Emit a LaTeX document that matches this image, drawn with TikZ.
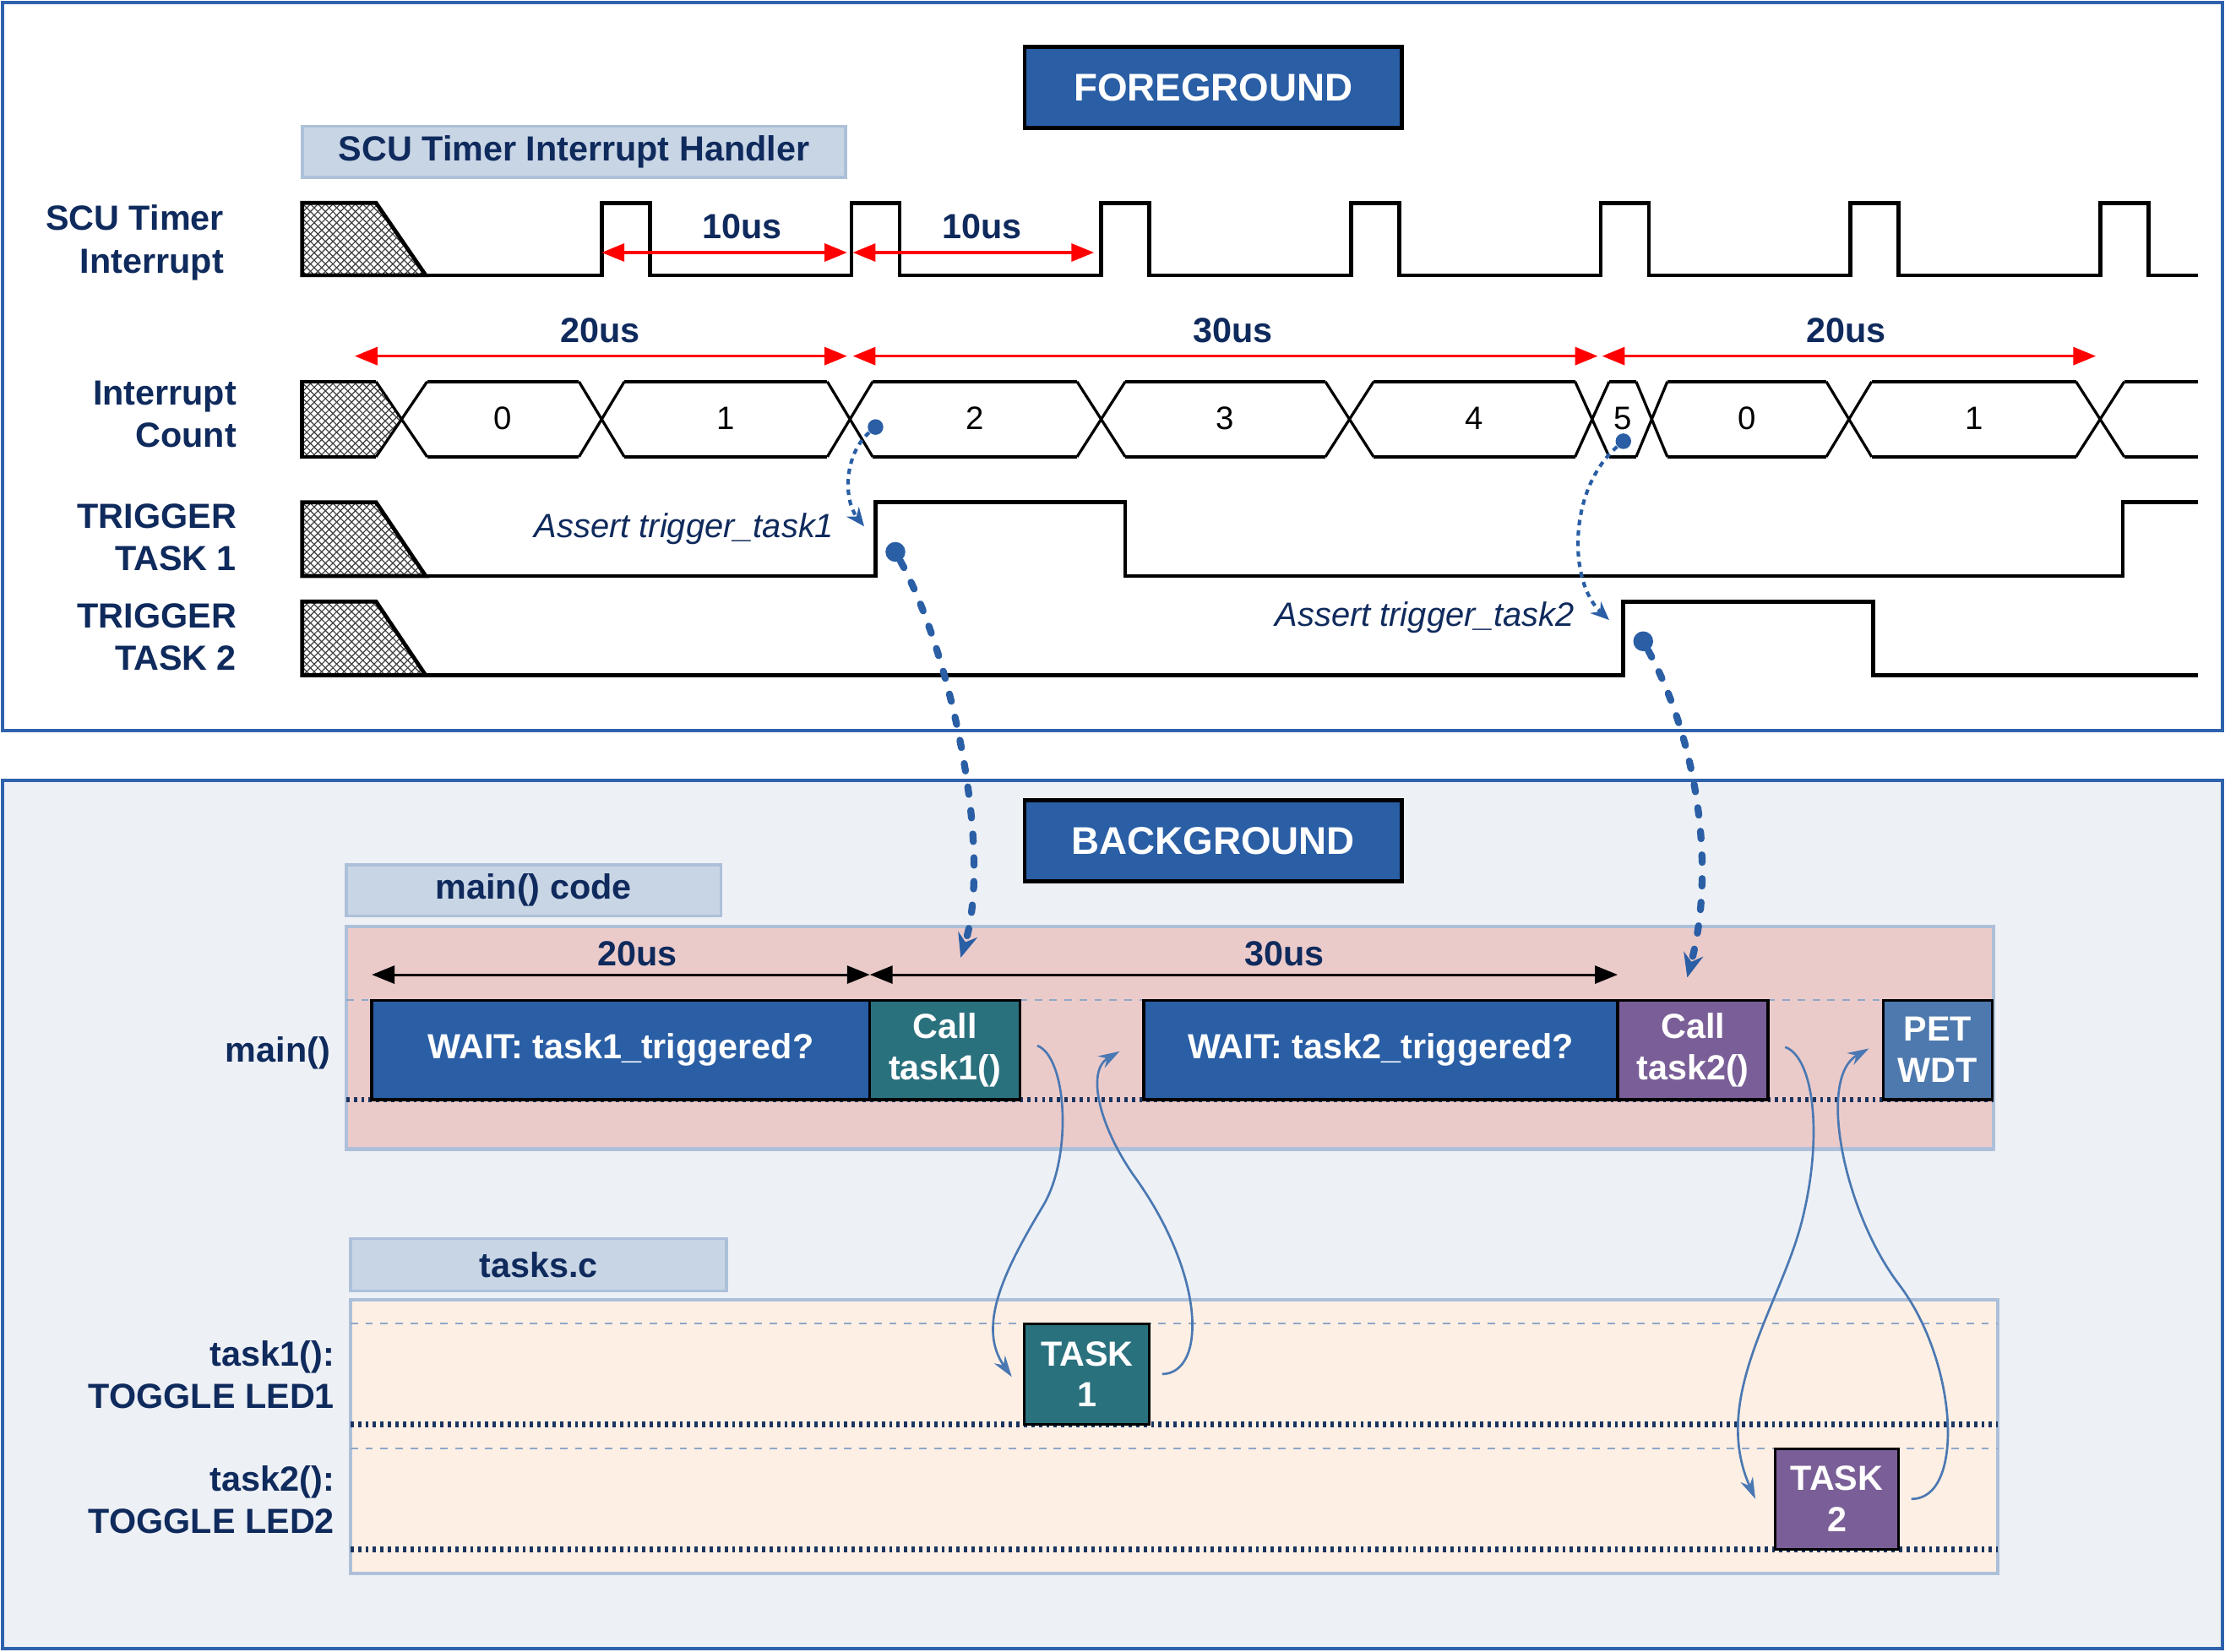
\documentclass[tikz,border=0pt]{standalone}
\usepackage{fontspec}
\setmainfont{Liberation Sans}
\usetikzlibrary{arrows.meta,patterns}

\definecolor{navytext}{HTML}{0F2A5C}
\definecolor{frameblue}{HTML}{2F62AC}
\definecolor{boxblue}{HTML}{2A5EA5}
\definecolor{tagfill}{HTML}{C8D5E5}
\definecolor{tagdraw}{HTML}{ADC0D9}
\definecolor{pinkfill}{HTML}{EBCBCA}
\definecolor{peachfill}{HTML}{FDEFE4}
\definecolor{bgfill}{HTML}{EDF0F5}
\definecolor{guidegray}{HTML}{8FA7C9}
\definecolor{tracknavy}{HTML}{1B3560}
\definecolor{tealbox}{HTML}{2A717E}
\definecolor{purplebox}{HTML}{7A5E97}
\definecolor{petbox}{HTML}{4E79AE}
\definecolor{curveblue}{HTML}{4A78B2}

\begin{document}
\begin{tikzpicture}[x=0.2mm, y=-0.2mm]

\tikzstyle{outerframe} = [draw=frameblue, line width=1.3pt]
\tikzstyle{headbox} = [draw=black, line width=1.6pt, fill=boxblue, text=white, font=\bfseries\fontsize{15.5}{18}\selectfont, minimum width=53.2mm, minimum height=11.4mm]
\tikzstyle{tagbox} = [draw=tagdraw, line width=1.2pt, fill=tagfill, text=navytext, font=\bfseries\fontsize{14}{17}\selectfont, minimum height=7.2mm]
\tikzstyle{lbl} = [text=navytext, font=\bfseries\fontsize{14}{17}\selectfont, align=right, anchor=east, inner sep=0pt]
\tikzstyle{dim} = [text=navytext, font=\bfseries\fontsize{14}{17}\selectfont]
\tikzstyle{cnt} = [font=\fontsize{13}{15}\selectfont]
\tikzstyle{assert} = [text=navytext, font=\itshape\fontsize{13.5}{16}\selectfont, anchor=east, inner sep=0pt]
\tikzstyle{wave} = [line width=1.6pt, line join=miter]
\tikzstyle{slope} = [line width=1.1pt]
\tikzstyle{redarr} = [red, line width=1.2pt, {Triangle[length=3.2mm,width=2.5mm]}-{Triangle[length=3.2mm,width=2.5mm]}]
\tikzstyle{blkarr} = [black, line width=1pt, {Triangle[length=3.2mm,width=2.5mm]}-{Triangle[length=3.2mm,width=2.5mm]}]
\tikzstyle{bluedot} = [circle, fill=boxblue, inner sep=0pt, minimum size=2.2mm]
\tikzstyle{bigdot} = [circle, fill=boxblue, inner sep=0pt, minimum size=2.8mm]
\tikzstyle{hint} = [boxblue, line width=1.4pt, dash pattern=on 2.2pt off 2pt, -{Stealth[length=2.6mm,width=2.2mm]}]
\tikzstyle{jump} = [boxblue, line width=2.8pt, line cap=round, dash pattern=on 3pt off 6.5pt, -{Stealth[length=3.4mm,width=2.8mm]}]
\tikzstyle{callarrow} = [curveblue, line width=0.9pt, -{Stealth[length=3mm,width=1.9mm]}]
\tikzstyle{taskbox} = [draw=black, line width=1.1pt, text=white, font=\bfseries\fontsize{14}{16.5}\selectfont, align=center, minimum height=14mm, inner sep=0pt]
\tikzstyle{guide} = [guidegray, line width=0.6pt, dashed]
\tikzstyle{track} = [tracknavy, line width=2.2pt, dash pattern=on 1.3pt off 1.7pt]

\useasboundingbox (0,0) rectangle (1568,1164);

%------------------------------------------------------------
% frames and titles
	\draw[outerframe, fill=white] (2,2) rectangle (1566,515);
	\draw[outerframe, fill=bgfill] (2,550) rectangle (1566,1162);

	\node[headbox] (fg) at (855,61.5) {FOREGROUND};
	\node[headbox] (bg) at (855,592.5) {BACKGROUND};

	\node[tagbox, minimum width=76.6mm] (isr) at (404.5,107) {SCU Timer Interrupt Handler};
	\node[tagbox, minimum width=52.8mm] (maincode) at (376,627.5) {main() code};
	\node[tagbox, minimum width=53mm, minimum height=7.4mm] (tasksc) at (379.5,891.5) {tasks.c};

%------------------------------------------------------------
% signal names
	\node[lbl] (ntimer) at (158,171) {SCU Timer\\Interrupt};
	\node[lbl] (ncount) at (167,292) {Interrupt\\Count};
	\node[lbl] (ntrig1) at (167,379) {TRIGGER\\TASK 1};
	\node[lbl] (ntrig2) at (167,449) {TRIGGER\\TASK 2};

%------------------------------------------------------------
% hatched start of each trace
	\foreach \yt/\yb in {143/194, 354/406, 424/476} {
		\fill[pattern=north east lines, pattern color=black!75] (213,\yt) -- (265,\yt) -- (300,\yb) -- (213,\yb) -- cycle;
		\fill[pattern=north west lines, pattern color=black!75] (213,\yt) -- (265,\yt) -- (300,\yb) -- (213,\yb) -- cycle;
		\draw[wave] (213,\yt) -- (265,\yt) -- (300,\yb) -- (213,\yb) -- cycle;
	}
	\fill[pattern=north east lines, pattern color=black!75] (213,269) -- (265,269) -- (283,295.5) -- (265,322) -- (213,322) -- cycle;
	\fill[pattern=north west lines, pattern color=black!75] (213,269) -- (265,269) -- (283,295.5) -- (265,322) -- (213,322) -- cycle;
	\draw[wave] (265,269) -- (213,269) -- (213,322) -- (265,322);

%------------------------------------------------------------
% timer interrupt pulses
	\draw[wave] (300,194) \foreach \p in {424,600,776,952,1128,1304,1480} { -- (\p,194) -- (\p,143) -- (\p+34,143) -- (\p+34,194) } -- (1549,194);

% interrupt count bus
	\foreach \t/\h in {283/18,424/16,599/16,776/17,951/17,1122/12,1164/11,1303/16,1480/17}
		\draw[slope] (\t-\h,269) -- (\t+\h,322) (\t-\h,322) -- (\t+\h,269);
	\foreach \a/\b/\v [count=\i] in {301/408/0, 440/583/1, 615/759/2, 793/934/3, 968/1110/4, 1134/1153/5, 1175/1287/0, 1319/1463/1} {
		\draw[wave] (\a,269) -- (\b,269) (\a,322) -- (\b,322);
		\node[cnt] (cell\i) at ({(\a+\b)/2},295) {\v};
	}
	\draw[wave] (1497,269) -- (1549,269) (1497,322) -- (1549,322);

% trigger flags
	\draw[wave] (300,406) -- (617,406) -- (617,354) -- (793,354) -- (793,406) -- (1496,406) -- (1496,354) -- (1549,354);
	\draw[wave] (300,476) -- (1144,476) -- (1144,424) -- (1320,424) -- (1320,476) -- (1549,476);

%------------------------------------------------------------
% time spans (foreground)
	\coordinate (ta) at (424,178);
	\coordinate (tb) at (597,178);
	\coordinate (tc) at (601,178);
	\coordinate (td) at (771,178);
	\path[redarr] (ta) edge (tb);
	\path[redarr] (tc) edge (td);
	\node[dim] (l10a) at (523,160) {10us};
	\node[dim] (l10b) at (692,160) {10us};

	\coordinate (sa) at (250,251);
	\coordinate (sb) at (597,251);
	\coordinate (sc) at (601,251);
	\coordinate (sd) at (1126,251);
	\coordinate (se) at (1129,251);
	\coordinate (sf) at (1477,251);
	\path[redarr] (sa) edge (sb);
	\path[redarr] (sc) edge (sd);
	\path[redarr] (se) edge (sf);
	\node[dim] (l20a) at (423,233) {20us};
	\node[dim] (l30) at (869,233) {30us};
	\node[dim] (l20b) at (1301,233) {20us};

%------------------------------------------------------------
% assert annotations
	\node[bluedot] (dot1) at (617,301) {};
	\node[bluedot] (dot2) at (1144,311) {};
	\node[bigdot] (dot3) at (631,389) {};
	\node[bigdot] (dot4) at (1158,452) {};
	\coordinate (tip1) at (609,371);
	\coordinate (tip2) at (1134,437);
	\node[assert] (as1) at (588,373) {Assert trigger\_task1};
	\node[assert] (as2) at (1110,435) {Assert trigger\_task2};
	\draw[hint] (dot1) .. controls (595,320) and (594,352) .. (tip1);
	\draw[hint] (dot2) .. controls (1105,345) and (1105,410) .. (tip2);

%------------------------------------------------------------
% background: main() and tasks.c lanes
	\draw[tagdraw, line width=1.5pt, fill=pinkfill] (244,653) rectangle (1405,810);
	\draw[tagdraw, line width=1.5pt, fill=peachfill] (247,916) rectangle (1408,1109);
	\draw[guide] (244,705) -- (1405,705);
	\draw[guide] (247,933) -- (1408,933);
	\draw[guide] (247,1021) -- (1408,1021);
	\draw[track] (244,775) -- (1405,775);
	\draw[track] (247,1004) -- (1408,1004);
	\draw[track] (247,1092) -- (1408,1092);

	\node[lbl] (nmain) at (233,742) {main()};
	\node[lbl] (ntask1) at (236,969) {task1():\\TOGGLE LED1};
	\node[lbl] (ntask2) at (236,1057) {task2():\\TOGGLE LED2};

	\node[taskbox, fill=boxblue, minimum width=70.2mm] (wait1) at (437.5,740) {WAIT: task1\_triggered?};
	\node[taskbox, fill=tealbox, minimum width=21.2mm] (call1) at (666,740) {Call\\task1()};
	\node[taskbox, fill=boxblue, minimum width=66.8mm] (wait2) at (973,740) {WAIT: task2\_triggered?};
	\node[taskbox, fill=purplebox, minimum width=21.2mm] (call2) at (1193,740) {Call\\task2()};
	\node[taskbox, fill=petbox, minimum width=15.4mm] (pet) at (1365.5,740) {PET\\WDT};
	\node[taskbox, fill=tealbox, minimum width=17.6mm, minimum height=14.2mm] (task1) at (766,968.5) {TASK\\1};
	\node[taskbox, fill=purplebox, minimum width=17.4mm, minimum height=14.2mm] (task2) at (1294.5,1056.5) {TASK\\2};

% time spans (background)
	\coordinate (m0) at (262,687);
	\coordinate (m1) at (613,687);
	\coordinate (m2) at (1140,687);
	\path[blkarr] (m0) edge (m1);
	\path[blkarr] (m1) edge (m2);
	\node[dim] (m20) at (449,672) {20us};
	\node[dim] (m30) at (905,672) {30us};

%------------------------------------------------------------
% calls into tasks.c and back
	\draw[callarrow] ([shift={(11,-3)}]call1.east) .. controls (752,745) and (756,815) .. (735,850) .. controls (708,895) and (688,935) .. ([shift={(-8,2)}]task1.west);
	\draw[callarrow] ([shift={(8,0)}]task1.east) .. controls (850,968) and (850,900) .. (800,830) .. controls (775,795) and (765,755) .. ([shift={(-16,1)}]wait2.west);
	\draw[callarrow] ([shift={(11,-2)}]call2.east) .. controls (1278,745) and (1285,800) .. (1270,860) .. controls (1255,920) and (1205,985) .. ([shift={(-13,0)}]task2.west);
	\draw[callarrow] ([shift={(8,0)}]task2.east) .. controls (1385,1057) and (1380,960) .. (1338,905) .. controls (1300,855) and (1280,760) .. ([shift={(-9,-1)}]pet.west);

% triggers wake the background
	\draw[jump] (dot3) .. controls (670,460) and (700,600) .. ([shift={(11,-29)}]call1.north);
	\draw[jump] (dot4) .. controls (1195,520) and (1210,610) .. ([shift={(-4,-15)}]call2.north);

\end{tikzpicture}
\end{document}
